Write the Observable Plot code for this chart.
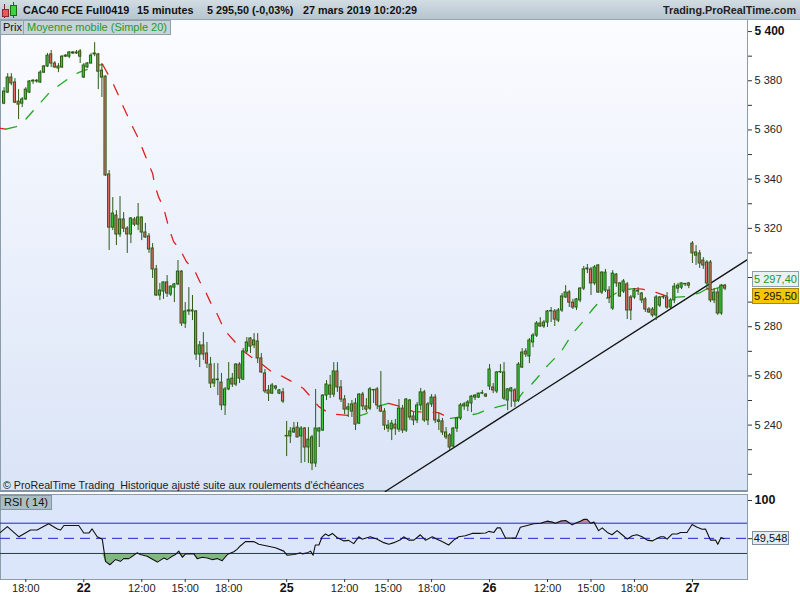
<!DOCTYPE html>
<html><head><meta charset="utf-8">
<script src="https://cdn.jsdelivr.net/npm/d3@7"></script>
<script src="https://cdn.jsdelivr.net/npm/@observablehq/plot@0.6"></script>
<style>
body{margin:0;width:800px;height:600px;overflow:hidden;background:#fff;font-family:"Liberation Sans",Arial,sans-serif;position:relative}
.abs{position:absolute}
.hdrtxt{position:absolute;top:0;line-height:20px;font-size:10.8px;font-weight:bold;color:#111;white-space:nowrap}
.vbox{position:absolute;white-space:nowrap;text-align:center;overflow:hidden;box-sizing:border-box}
</style></head><body>
<div class="abs" style="left:0;top:0;width:800px;height:19px;background:linear-gradient(#d2dce3,#b6c5cf);border-bottom:1px solid #95a7b3"></div>
<div class="abs" style="left:4px;top:4px;width:1px;height:14px;background:#7a2020"></div>
<div class="abs" style="left:2px;top:9px;width:5px;height:6px;background:#e35b5b;border:1px solid #8a2a2a"></div>
<div class="abs" style="left:13px;top:2px;width:1px;height:16px;background:#1f6a10"></div>
<div class="abs" style="left:10px;top:5px;width:5px;height:9px;background:#3fd23f;border:1px solid #1f6a10"></div>
<div class="hdrtxt" style="left:23px">CAC40 FCE Full0419</div>
<div class="hdrtxt" style="left:137px">15 minutes</div>
<div class="hdrtxt" style="left:207px">5 295,50 (-0,03%)</div>
<div class="hdrtxt" style="left:303px">27 mars 2019 10:20:29</div>
<div class="hdrtxt" style="right:4px;color:#222">Trading.ProRealTime.com</div>

<div class="abs" style="left:0;top:20px;width:746px;height:470px;background:linear-gradient(#fbfcff,#dae4f7);border-left:1px solid #8c9daa;border-bottom:2px solid #8595a5;border-right:1px solid #8c9daa;box-sizing:content-box"></div>
<div class="abs" style="left:0;top:494px;width:746px;height:84px;background:#dce6fa;border:1px solid #8c9daa"></div>

<div id="priceWrap" class="abs" style="left:0;top:20px"></div>
<div id="rsiWrap" class="abs" style="left:0;top:493px"></div>

<div class="abs" style="left:0;top:20px;height:13px;line-height:13px;padding:0 2px;font-size:11px;background:#c7d2d9;border:1px solid #8fa1ad;color:#111">Prix</div>
<div class="abs" style="left:23px;top:20px;height:13px;line-height:13px;padding:0 3px;font-size:11px;background:#c7d2d9;border:1px solid #8fa1ad;color:#1f9a1f">Moyenne mobile (Simple 20)</div>
<div class="abs" style="left:3px;top:478px;font-size:10.7px;line-height:14px;color:#1a1a1a;white-space:nowrap">© ProRealTime Trading&nbsp; Historique ajusté suite aux roulements d'échéances</div>
<div class="abs" style="left:0;top:495px;height:13px;line-height:13px;padding:0 3px;font-size:11px;background:#a9bec7;border:1px solid #8396a2;color:#111">RSI ( 14)</div>

<div id="maBox" class="vbox" style="left:752px;width:47px;height:16px;line-height:14px;font-size:11px;background:#e9f1f2;border:1px solid #8aa0aa;color:#1e961e"></div>
<div id="clBox" class="vbox" style="left:752px;width:47px;height:16px;line-height:14px;font-size:11px;background:#f6c600;border:1px solid #a88a10;color:#111"></div>
<div id="rsiBox" class="vbox" style="left:752px;width:37px;height:14px;line-height:12px;font-size:11px;background:#e4edf5;border:1px solid #7f8f9c;color:#111"></div>

<script>
// ---- price candles (15 min bars, index 0 = 21 mars 16:30) ----
const opens = [5370.7,5375.2,5381.3,5379.3,5371.5,5370.7,5372.4,5375.2,5379.7,5380.0,
 5379.3,5383.3,5385.8,5390.7,5387.0,5385.8,5385.4,5389.8,5389.8,5391.5,
 5391.1,5391.9,5381.3,5385.4,5387.0,5390.7,5390.7,5384.1,5381.7,5341.9,
 5320.3,5325.2,5317.5,5323.6,5319.9,5317.5,5323.6,5321.5,5324.4,5318.3,
 5316.7,5311.8,5303.3,5292.7,5294.3,5298.0,5293.1,5295.9,5297.2,5302.4,
 5281.3,5286.2,5286.6,5286.2,5268.7,5272.4,5269.1,5264.6,5256.9,5258.5,
 5257.3,5248.0,5254.5,5258.9,5256.5,5264.6,5258.5,5269.9,5275.2,5272.4,
 5274.0,5267.1,5261.0,5254.1,5252.8,5255.7,5252.8,5253.3,5235.4,5235.4,
 5237.0,5239.0,5235.4,5238.6,5230.9,5235.0,5224.4,5237.4,5237.8,5252.0,
 5256.1,5252.4,5261.8,5255.3,5250.4,5246.3,5245.5,5248.8,5240.6,5252.4,
 5247.6,5246.7,5254.3,5254.5,5247.6,5245.5,5239.8,5238.2,5240.2,5238.2,
 5246.7,5237.8,5250.0,5243.5,5241.9,5248.0,5253.3,5241.9,5248.4,5251.2,
 5241.9,5241.5,5237.0,5235.8,5231.3,5238.6,5242.7,5247.6,5247.6,5248.8,
 5251.2,5251.2,5252.8,5252.4,5255.7,5255.3,5253.7,5261.4,5261.4,5250.0,
 5253.7,5254.1,5250.0,5263.4,5269.9,5267.9,5273.6,5276.4,5281.3,5281.7,
 5281.7,5286.2,5286.2,5282.5,5286.6,5291.9,5293.9,5289.8,5287.8,5290.7,
 5295.5,5303.3,5303.3,5297.6,5304.9,5293.9,5294.7,5294.7,5287.4,5301.2,
 5292.3,5294.3,5297.2,5291.9,5291.9,5294.3,5293.5,5291.1,5287.0,5287.0,
 5284.6,5288.6,5291.9,5291.9,5287.8,5290.7,5296.7,5295.9,5297.2,5297.6,
 5313.8,5308.9,5309.8,5306.9,5306.1,5306.1,5290.7,5293.9,5285.4,5296.7];
const highs = [5377.2,5382.9,5382.9,5380.9,5376.4,5373.2,5377.2,5380.1,5380.5,5380.5,
 5384.1,5386.2,5391.1,5392.3,5387.8,5387.0,5390.2,5390.7,5391.9,5391.9,
 5392.3,5392.7,5387.0,5387.4,5391.1,5395.5,5391.1,5387.0,5382.0,5343.5,
 5332.5,5327.2,5332.9,5326.4,5320.7,5324.4,5324.4,5330.1,5324.6,5322.0,
 5317.9,5313.8,5304.9,5297.6,5298.2,5300.8,5296.7,5297.6,5306.9,5302.8,
 5289.8,5295.9,5292.7,5286.6,5274.0,5277.6,5273.6,5267.5,5265.0,5265.0,
 5261.0,5255.3,5265.4,5261.0,5265.0,5265.4,5271.1,5275.6,5275.6,5277.2,
 5277.2,5269.1,5262.6,5256.1,5256.9,5256.1,5254.5,5254.9,5241.5,5239.0,
 5241.1,5241.1,5239.4,5239.0,5239.0,5235.8,5254.5,5239.0,5252.4,5258.1,
 5260.2,5265.4,5265.4,5258.1,5252.0,5248.8,5250.0,5250.8,5252.8,5253.3,
 5250.8,5255.3,5254.5,5255.3,5261.8,5246.7,5241.9,5241.9,5242.3,5250.4,
 5248.0,5250.8,5250.4,5245.1,5249.2,5254.9,5254.1,5249.2,5252.4,5252.4,
 5244.7,5242.7,5239.0,5236.6,5239.0,5243.1,5248.8,5249.2,5250.0,5252.0,
 5252.4,5253.0,5254.1,5252.8,5264.6,5256.9,5261.8,5264.6,5265.4,5254.9,
 5255.3,5254.9,5265.4,5271.1,5271.1,5275.2,5277.2,5282.1,5283.7,5282.5,
 5286.6,5287.8,5287.0,5287.4,5293.5,5296.7,5294.7,5291.1,5291.5,5295.9,
 5304.5,5305.3,5304.1,5304.9,5305.3,5302.4,5303.3,5296.3,5302.8,5301.6,
 5298.0,5299.2,5298.0,5292.7,5295.5,5295.9,5293.9,5291.9,5287.8,5287.8,
 5292.7,5292.3,5292.7,5293.9,5291.5,5297.6,5297.6,5297.8,5297.6,5298.0,
 5314.6,5313.0,5311.0,5308.1,5306.9,5306.9,5295.5,5295.5,5297.2,5297.2];
const lows = [5370.3,5374.8,5378.0,5370.7,5364.2,5369.1,5372.0,5374.8,5378.5,5379.0,
 5378.9,5382.9,5385.4,5385.4,5385.0,5383.3,5385.0,5389.4,5389.0,5390.7,
 5390.7,5387.0,5381.0,5385.0,5386.8,5389.8,5376.4,5373.2,5341.1,5311.0,
 5319.1,5313.0,5316.3,5318.3,5309.8,5313.8,5320.7,5319.1,5315.0,5315.9,
 5309.8,5299.6,5292.3,5290.6,5291.1,5291.9,5292.3,5289.8,5296.7,5280.1,
 5279.3,5284.6,5282.5,5266.3,5263.4,5266.3,5263.0,5254.9,5255.3,5252.0,
 5245.9,5243.9,5254.0,5255.3,5255.7,5256.9,5258.1,5269.1,5269.1,5271.1,
 5265.0,5261.0,5252.8,5249.6,5252.4,5254.1,5252.4,5248.8,5227.2,5232.5,
 5236.6,5234.8,5224.4,5224.8,5224.4,5221.5,5222.8,5230.9,5237.4,5250.0,
 5250.8,5251.2,5253.3,5249.2,5244.3,5243.1,5243.1,5237.8,5240.2,5245.9,
 5245.1,5245.9,5248.8,5246.3,5245.1,5237.8,5237.0,5233.7,5235.8,5237.0,
 5236.6,5237.0,5241.9,5239.8,5240.6,5245.9,5241.1,5239.8,5247.2,5240.6,
 5237.8,5235.8,5234.1,5229.7,5230.9,5237.0,5241.9,5246.0,5245.5,5245.1,
 5250.0,5250.8,5252.4,5251.2,5254.1,5252.8,5252.8,5261.0,5250.0,5245.9,
 5247.2,5247.2,5249.2,5263.0,5267.5,5265.0,5271.5,5275.6,5279.7,5279.3,
 5279.7,5281.7,5280.1,5281.7,5285.8,5291.5,5287.8,5287.0,5286.6,5289.8,
 5294.7,5301.6,5292.7,5296.7,5293.5,5293.1,5293.9,5289.4,5286.6,5296.0,
 5291.9,5293.5,5282.9,5282.5,5291.1,5292.7,5289.4,5285.8,5285.4,5283.7,
 5282.5,5287.8,5291.1,5287.0,5287.4,5289.4,5293.5,5295.1,5296.3,5295.5,
 5305.7,5304.9,5303.7,5303.3,5294.7,5289.8,5289.4,5284.6,5284.6,5294.7];
const closes = [5375.6,5381.3,5378.9,5371.1,5370.3,5372.4,5376.4,5379.7,5380.0,5379.7,
 5383.3,5385.8,5390.2,5387.0,5385.4,5385.0,5389.8,5390.2,5391.5,5391.1,
 5391.5,5389.8,5386.2,5387.0,5390.2,5391.1,5383.7,5381.3,5341.5,5320.3,
 5326.0,5317.5,5323.6,5319.9,5317.5,5324.0,5321.5,5324.4,5318.3,5316.3,
 5311.4,5303.3,5292.7,5294.7,5298.0,5293.5,5296.3,5297.2,5302.4,5281.3,
 5286.2,5286.6,5286.2,5268.7,5272.4,5268.7,5265.0,5256.9,5258.5,5258.3,
 5248.0,5254.5,5258.5,5256.5,5264.6,5258.9,5269.9,5273.6,5271.9,5274.4,
 5267.1,5261.4,5253.7,5252.8,5256.1,5254.9,5254.1,5249.6,5235.6,5237.4,
 5238.6,5235.0,5238.6,5230.9,5234.1,5224.4,5238.6,5238.6,5252.0,5256.5,
 5252.4,5261.8,5255.3,5250.4,5246.3,5247.2,5248.4,5240.2,5252.4,5247.6,
 5246.3,5254.5,5254.1,5248.0,5245.5,5239.8,5238.6,5240.6,5238.6,5246.7,
 5237.8,5250.4,5243.1,5241.9,5248.0,5253.3,5241.9,5248.4,5251.2,5241.9,
 5241.3,5237.0,5235.0,5230.9,5238.6,5242.7,5248.0,5248.4,5249.2,5251.6,
 5252.0,5252.8,5253.0,5251.6,5262.6,5254.1,5261.4,5261.6,5250.8,5254.5,
 5254.9,5249.6,5264.6,5269.5,5268.7,5274.4,5276.4,5281.3,5280.1,5280.1,
 5286.2,5286.4,5282.9,5286.6,5292.3,5293.9,5289.8,5287.8,5291.1,5295.5,
 5303.3,5303.7,5297.6,5304.1,5293.9,5302.0,5302.0,5291.5,5301.6,5297.6,
 5297.6,5298.4,5286.6,5286.6,5294.7,5294.5,5290.7,5287.0,5285.8,5284.6,
 5291.9,5291.9,5292.1,5287.8,5290.7,5296.3,5295.5,5297.6,5297.4,5296.7,
 5309.8,5310.2,5305.7,5304.9,5297.6,5290.7,5293.9,5285.4,5296.7,5295.5];

// ---- moving average (Simple 20) ----
const maBar = [-1.0,0.5,3.4,5.9,8.1,10.3,12.5,15.0,17.8,20.5,23.6,25.5,27.2,30.2,31.6,33.0,34.3,35.7,37.1,38.5,
 39.6,41.0,41.5,42.6,44.0,44.8,45.6,46.8,48.7,50.3,52.6,54.0,55.6,57.0,58.6,60.0,61.7,64.1,65.8,68.8,
 71.3,74.1,76.8,79.9,82.6,84.8,86.8,89.8,95.0,97.5,100.0,103.1,106.1,109.4,113.0,119.9,123.2,126.8,130.7,133.4,
 136.7,141.2,143.4,145.8,148.0,150.0,152.5,153.6,156.9,160.5,162.4,164.6,167.4,170.1,173.7,176.2,179.2,182.3,184.8,188.9,
 192.2,194.1,195.5,197.2,199.0];
const maVal = [5360.6,5360.3,5361.4,5364.2,5367.9,5371.5,5375.2,5378.0,5380.9,5383.3,5385.0,5386.2,5386.6,5378.5,5374.0,5369.1,5365.0,5360.6,5356.5,5351.2,
 5347.2,5342.3,5338.2,5332.9,5328.5,5324.0,5319.5,5314.6,5311.0,5306.5,5302.8,5298.4,5294.3,5289.8,5285.8,5281.3,5277.2,5273.2,5270.3,5267.1,
 5264.6,5261.4,5259.8,5257.3,5254.9,5251.2,5247.6,5244.7,5243.9,5243.5,5244.7,5247.6,5248.8,5247.6,5245.5,5245.1,5242.7,5243.5,5244.7,5246.3,
 5247.6,5249.2,5253.7,5256.9,5260.6,5264.2,5267.9,5269.5,5277.2,5283.3,5287.0,5290.7,5292.3,5294.7,5295.5,5295.3,5294.3,5292.7,5291.9,5292.3,
 5293.9,5295.5,5295.1,5295.9,5297.4];

// ---- trend line (support) ----
const trendBar = [105.2, 205.2];
const trendVal = [5213.0, 5307.3];

// ---- RSI (14) ----
const rsiBar = [-1.0,0.9,4.1,7.3,9.1,12.3,14.7,15.6,16.5,20.6,22.0,23.4,24.3,25.7,27.1,28.0,29.2,30.7,32.1,33.0,
 34.4,35.4,36.7,37.6,39.5,42.3,44.1,45.0,46.4,47.3,48.2,49.2,50.1,52.4,53.3,54.7,56.1,57.4,58.8,60.2,
 61.6,63.4,64.3,65.2,66.6,68.9,70.3,72.6,74.9,77.2,78.1,80.0,81.8,82.3,83.7,84.6,85.3,85.9,86.9,87.8,
 88.7,89.6,90.6,91.9,93.8,95.1,96.5,97.9,98.8,101.1,103.0,104.8,106.2,107.6,109.4,110.3,111.7,113.1,114.9,116.3,
 118.2,119.5,120.9,122.7,124.1,125.5,127.3,129.2,131.0,132.9,133.8,135.2,136.1,137.0,138.4,140.2,141.2,142.5,144.4,146.2,
 148.1,149.9,151.3,152.2,153.6,155.0,156.8,157.7,159.1,160.0,160.9,161.9,162.8,164.1,165.1,166.5,167.8,169.2,170.6,172.0,
 173.4,174.7,176.1,177.5,178.9,179.8,181.2,182.1,183.0,184.4,185.8,186.7,188.5,189.9,191.3,192.7,193.6,195.0,196.4,197.0,
 197.9,198.7];
const rsiVal = [57.8,65.5,52,61,61,69.2,62.4,61,66.9,66.9,57,57,62.4,52,48.9,19.6,15.1,21.9,19.6,23.2,
 23.2,26.4,30.8,28.6,26.4,18.6,24.1,21.9,26.4,28.6,33.1,25,29.5,29.5,23.2,25,24.1,21.9,23.2,20.5,
 28.6,32.2,35.4,39.9,45.7,45.7,42.1,39.9,37.6,33.1,27.7,28.6,30.8,29.5,30.8,33.1,27.7,41.2,41.2,52,
 55.7,53.4,56.5,51.1,46.6,47.3,43,52,48.9,52,48.9,44.3,42.1,44.3,48,52,47.6,47.6,54.7,47.6,
 52,48.9,45.7,41.2,47.6,52,53.4,56.5,56.5,57,59.2,57.8,63.8,63.8,50.3,50.3,50.3,64.6,66.9,69.2,
 70,72.7,71.4,70,72.7,73.6,67.8,70,72.7,75,75,70,71.4,60.1,63.8,57.8,54.7,60.1,54.7,48.9,
 53.4,54.7,52,47.6,46.6,48.9,52,52,48.9,55.7,55.7,57.8,57.8,68.2,64.6,61.9,62.4,47.6,47.6,42.1,
 51.1,49.548];

// ---- axis ticks ----
const priceLabels = [5400,5380,5360,5340,5320,5280,5260,5240];
const priceTicks = [5220,5230,5240,5250,5260,5270,5280,5290,5300,5310,5320,5330,5340,5350,5360,5370,5380,5390,5400];
const timeTickBars = [6,22,38,50,62,78,94,106,118,134,150,162,174,190];
const timeTickLabels = ["18:00","22","12:00","15:00","18:00","25","12:00","15:00","18:00","26","12:00","15:00","18:00","27"];

// ---- build tables ----
const FONT = '"Liberation Sans", Arial, sans-serif';
const bars = opens.map((o, i) => ({i, open: o, high: highs[i], low: lows[i], close: closes[i]}));
const ma = maBar.map((b, i) => ({b, v: maVal[i]}));
const segs = [];
let run = 0, prevColor = null, prevUp = true;
for (let k = 0; k < ma.length - 1; k++) {
  const a = ma[k], c = ma[k + 1];
  const up = c.v > a.v ? true : c.v < a.v ? false : prevUp;
  prevUp = up;
  const color = up ? "#22a822" : "#e02020";
  if (color !== prevColor) { run++; segs.push({b: a.b, v: a.v, run, color}); }
  segs.push({b: c.b, v: c.v, run, color});
  prevColor = color;
}
const trend = trendBar.map((b, i) => ({b, v: trendVal[i]}));
const rsi = rsiBar.map((b, i) => ({b, v: rsiVal[i]}));
const xTicks = timeTickBars.map((b, i) => ({b, t: timeTickLabels[i], day: timeTickLabels[i].length <= 2}));

const fmtTick = d => { const s = String(d); return s.slice(0, 1) + " " + s.slice(1); };
const fmtFr = (v, n) => v.toFixed(n).replace(".", ",").replace(/^(\d)(\d{3})/, "$1 $2");

const lastClose = closes[closes.length - 1];
const xDomain = [-0.99, 205.2];
const style = {background: "transparent", fontFamily: FONT, fontSize: "11px", color: "#333", overflow: "visible"};

const price = Plot.plot({
  width: 800, height: 472, marginLeft: 0, marginRight: 53, marginTop: 0, marginBottom: 0,
  style,
  x: {domain: xDomain, axis: null, label: null},
  y: {domain: [5212.6, 5404.5], axis: "right", ticks: priceTicks, tickFormat: () => "", tickSize: 4, label: null},
  color: {type: "identity"},
  marks: [
    Plot.line(trend, {x: "b", y: "v", stroke: "#161616", strokeWidth: 1.3, clip: true}),
    Plot.line(segs, {x: "b", y: "v", z: "run", stroke: "color", strokeWidth: 1.3, strokeDasharray: "11,12", clip: true}),
    Plot.ruleX(bars, {x: "i", y1: "low", y2: "high", stroke: "#2b5a14", strokeWidth: 1}),
    Plot.rect(bars, {x1: d => d.i - 0.3, x2: d => d.i + 0.3, y1: "open", y2: "close",
      fill: d => d.close >= d.open ? "#3bcc3b" : "#e36a6a", stroke: "#2b5a14", strokeWidth: 1}),
    Plot.text(priceLabels.filter(d => d === 5400), {y: d => d, text: fmtTick, frameAnchor: "right", dx: 7, textAnchor: "start", fontWeight: "bold", fontSize: 12, fill: "#111"}),
    Plot.text(priceLabels.filter(d => d !== 5400), {y: d => d, text: fmtTick, frameAnchor: "right", dx: 7, textAnchor: "start", fontSize: 11, fill: "#222"})
  ]
});
document.getElementById("priceWrap").appendChild(price);

const rsiLast = rsiVal[rsiVal.length - 1];
const rsiPlot = Plot.plot({
  width: 800, height: 107, marginLeft: 0, marginRight: 53, marginTop: 2, marginBottom: 21,
  style,
  x: {domain: xDomain, ticks: timeTickBars, tickFormat: () => "", tickSize: 3, label: null},
  y: {domain: [-4.4, 106.6], axis: "right", ticks: [100, rsiLast], tickFormat: () => "", tickSize: 4, label: null},
  marks: [
    Plot.areaY(rsi, {x: "b", y1: () => 70, y2: d => Math.max(d.v, 70), fill: "#c48b8b"}),
    Plot.areaY(rsi, {x: "b", y1: () => 30, y2: d => Math.min(d.v, 30), fill: "#7fb97f"}),
    Plot.ruleY([70, 30], {stroke: "#2424cc", strokeWidth: 1}),
    Plot.ruleY([50], {stroke: "#2424cc", strokeWidth: 1, strokeDasharray: "10,6"}),
    Plot.line(rsi, {x: "b", y: "v", stroke: "#111", strokeWidth: 1.1, clip: true}),
    Plot.text([100], {y: d => d, text: d => String(d), frameAnchor: "right", dx: 7, textAnchor: "start", fontWeight: "bold", fontSize: 12.5, fill: "#111"}),
    Plot.text(xTicks.filter(d => !d.day), {x: "b", text: "t", frameAnchor: "bottom", dy: 12, fontSize: 11, fill: "#222"}),
    Plot.text(xTicks.filter(d => d.day), {x: "b", text: "t", frameAnchor: "bottom", dy: 12, fontSize: 12.5, fontWeight: "bold", fill: "#111"})
  ]
});
document.getElementById("rsiWrap").appendChild(rsiPlot);

// value boxes on the right axis, positioned with the plots' own scales
const maLast = maVal[maVal.length - 1];
const yMA = 20 + price.scale("y").apply(maLast);
const yCl = 20 + price.scale("y").apply(lastClose);
const maBox = document.getElementById("maBox");
maBox.textContent = fmtFr(maLast, 2);
maBox.style.top = (yMA - 12) + "px";
const clBox = document.getElementById("clBox");
clBox.textContent = fmtFr(lastClose, 2);
clBox.style.top = (yCl - 0.5) + "px";
const rsiBox = document.getElementById("rsiBox");
rsiBox.textContent = String(rsiLast).replace(".", ",");
rsiBox.style.top = (493 + rsiPlot.scale("y").apply(rsiLast) - 7) + "px";
</script>
</body></html>
